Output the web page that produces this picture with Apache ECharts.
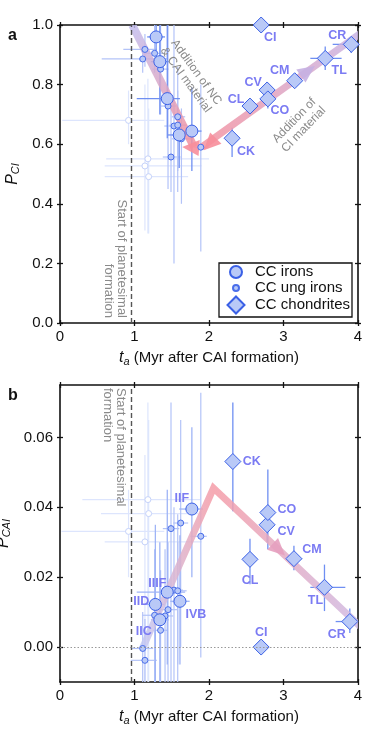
<!DOCTYPE html>
<html>
<head>
<meta charset="utf-8">
<script src="https://cdn.jsdelivr.net/npm/echarts@6/dist/echarts.min.js"></script>
<style>
html, body { margin: 0; padding: 0; background: #fff; }
#main { width: 386px; height: 744px; }
</style>
</head>
<body>
<div id="main"></div>
<script>
var FONT = '"Liberation Sans", Arial, Helvetica, sans-serif';
var INK = '#111';
var LABEL = '#7b7bf3';

// ---- panel a : P_CI against accretion age ----
var ironNames = ['IID', 'IIC', 'IIIF', 'IVB', 'IIF'];
var ironsA = [[1.29, 0.960], [1.34, 0.877], [1.44, 0.753], [1.60, 0.631], [1.77, 0.644]];
var ironsAErr = [[1.17, 1.41, 0.86, 1.00], [1.22, 1.46, 0.70, 1.00], [1.03, 1.61, 0.62, 1.00], [1.45, 1.68, 0.52, 0.70], [1.70, 1.90, 0.51, 0.79]];
var ungA = [[1.14, 0.918], [1.27, 0.905], [1.11, 0.886], [1.35, 0.852], [1.45, 0.728], [1.58, 0.692], [1.53, 0.661], [1.58, 0.664], [1.63, 0.618], [1.89, 0.590], [1.49, 0.557]];
var ungAErr = [[0.85, 1.30, 0.86, 0.97], [1.15, 1.40, 0.84, 1.00], [0.56, 1.45, 0.84, 0.93], [1.24, 1.46, 0.70, 1.00], [1.35, 1.56, 0.45, 1.00], [1.50, 1.68, 0.51, 0.78],
               [1.40, 1.62, 0.20, 1.00], [1.47, 1.70, 0.44, 0.86], [1.50, 1.76, 0.40, 0.72], [1.80, 2.00, 0.24, 0.80], [1.38, 1.62, 0.44, 0.72]];
var ungAFaint = [[0.92, 0.680], [1.18, 0.551], [1.14, 0.527], [1.19, 0.491]];
var ungAFaintErr = [[0.03, 1.40, 0.60, 0.78], [0.62, 2.00, 0.30, 0.82], [0.60, 1.90, 0.31, 0.80], [0.60, 1.72, 0.30, 0.72]];
var chondNames = ['CI', 'CR', 'TL', 'CM', 'CV', 'CO', 'CL', 'CK'];
var chondA = [[2.70, 1.000], [3.91, 0.935], [3.56, 0.888], [3.15, 0.813], [2.78, 0.782], [2.79, 0.752], [2.55, 0.728], [2.31, 0.620]];
var chondAErr = [[2.70, 2.70, 1.00, 1.00], [3.66, 4.03, 0.906, 0.956], [3.36, 3.78, 0.849, 0.928], [3.15, 3.15, 0.80, 0.83], [2.78, 2.78, 0.782, 0.782], [2.79, 2.79, 0.72, 0.78], [2.55, 2.55, 0.728, 0.728], [2.31, 2.31, 0.557, 0.655]];
var arrowA1 = [[0.97, 1.00], [1.80, 0.59]];
var arrowA2 = [[1.90, 0.59], [4.05, 0.975]];
var headsA = [[1.64, 0.591, 1.87, 0.587], [1.93, 0.580, 2.05, 0.610], [3.42, 0.862, 3.25, 0.832]];

// ---- panel b : P_CAI against accretion age ----
var ironsB = [[1.28, 0.0122], [1.34, 0.0078], [1.44, 0.0157], [1.61, 0.0131], [1.77, 0.0395]];
var ironsBErr = [[1.15, 1.40, -0.01, 0.035], [1.22, 1.46, -0.01, 0.030], [1.03, 1.68, -0.005, 0.045], [1.48, 1.74, -0.005, 0.032], [1.60, 1.92, 0.020, 0.0629]];
var ungB = [[1.53, 0.0163], [1.58, 0.0161], [1.58, 0.0130], [1.45, 0.0107], [1.27, 0.0091], [1.41, 0.0089], [1.35, 0.0048], [1.11, -0.0004], [1.14, -0.0038], [1.49, 0.0339], [1.62, 0.0355], [1.89, 0.0317]];
var ungBErr = [[1.42, 1.65, -0.01, 0.040], [1.48, 1.70, -0.01, 0.038], [1.50, 1.68, -0.005, 0.030], [1.35, 1.58, -0.01, 0.030], [1.10, 1.42, -0.01, 0.028], [1.30, 1.52, -0.01, 0.028],
               [1.25, 1.45, -0.01, 0.022], [0.95, 1.25, -0.01, 0.010], [0.95, 1.30, -0.01, 0.008], [1.38, 1.60, -0.01, 0.070], [1.52, 1.72, 0.000, 0.065], [1.75, 1.97, -0.003, 0.0728]];
var ungBFaint = [[1.18, 0.0422], [1.19, 0.0382], [0.92, 0.0331], [1.14, 0.0301]];
var ungBFaintErr = [[0.30, 1.88, -0.01, 0.070], [0.55, 1.85, -0.01, 0.065], [0.02, 1.40, 0.020, 0.045], [0.60, 1.90, -0.01, 0.055]];
var chondB = [[2.70, 0.0000], [3.89, 0.0073], [3.55, 0.0171], [3.14, 0.0253], [2.78, 0.0350], [2.79, 0.0385], [2.55, 0.0251], [2.32, 0.0531]];
var chondBErr = [[2.70, 2.70, 0, 0], [3.70, 4.05, 0.004, 0.011], [3.36, 3.83, 0.0103, 0.0236], [3.05, 3.25, 0.022, 0.029], [2.78, 2.78, 0.030, 0.040], [2.79, 2.79, 0.028, 0.0508], [2.55, 2.55, 0.018, 0.031], [2.32, 2.32, 0.0389, 0.070]];
var arrowB = [[1.10, -0.0007], [2.06, 0.0455], [4.05, 0.0055]];
var headsB = [[3.02, 0.0262, 2.86, 0.0294]];

var planetesimalStart = 0.95;
var ticksX = [0, 1, 2, 3, 4];
var ticksA = [0, 0.2, 0.4, 0.6, 0.8, 1.0];
var ticksB = [0, 0.02, 0.04, 0.06];

// label offsets (px from marker centre)
var offA = {CI: [9, 13], CR: [-14, -9], TL: [14, 12], CM: [-15, -10], CV: [-14, -7], CO: [12, 12], CL: [-14, -7], CK: [14, 13]};
var offB = {CI: [0, -15], CR: [-13, 13], TL: [-9, 13], CM: [18, -9], CV: [19, 7], CO: [19, -3], CL: [0, 21], CK: [19, 0],
            IIF: [-10, -10], IIIF: [-10, -9], IID: [-14, -3], IVB: [16, 13], IIC: [-16, 12]};

function lineSt(show) { return {show: show, onZero: false, lineStyle: {color: INK, width: 1.6}}; }
function tickSt(inside, vals) { return {show: true, inside: inside, length: 3, customValues: vals, lineStyle: {color: INK, width: 1.3}}; }
var nameRich = {
    i: {fontStyle: 'italic', fontSize: 16, fontFamily: FONT, color: INK, lineHeight: 18},
    s: {fontStyle: 'italic', fontSize: 11, fontFamily: FONT, color: INK, lineHeight: 12, verticalAlign: 'bottom'},
    n: {fontSize: 15, fontFamily: FONT, color: INK, lineHeight: 18}
};

function xAxes(gi) {
    var base = {gridIndex: gi, type: 'value', min: 0, max: 4, splitLine: {show: false}};
    return [
        Object.assign({}, base, {position: 'bottom', axisLine: lineSt(true), axisTick: tickSt(false, ticksX),
            axisLabel: {show: true, customValues: ticksX, margin: 6, fontSize: 15, color: INK, fontFamily: FONT},
            name: '{i|t}{s|a}{n| (Myr after CAI formation)}', nameLocation: 'middle', nameGap: 26,
            nameTextStyle: {rich: nameRich}}),
        Object.assign({}, base, {position: 'bottom', axisLine: lineSt(false), axisTick: tickSt(true, ticksX), axisLabel: {show: false}}),
        Object.assign({}, base, {position: 'top', axisLine: lineSt(true), axisTick: tickSt(true, ticksX), axisLabel: {show: false}}),
        Object.assign({}, base, {position: 'top', axisLine: lineSt(false), axisTick: tickSt(false, ticksX), axisLabel: {show: false}})
    ];
}
function yAxes(gi, min, max, ticks, digits, nameText) {
    var base = {gridIndex: gi, type: 'value', min: min, max: max, splitLine: {show: false}};
    return [
        Object.assign({}, base, {position: 'left', axisLine: lineSt(true), axisTick: tickSt(false, ticks),
            axisLabel: {show: true, customValues: ticks, margin: 7, fontSize: 15, color: INK, fontFamily: FONT,
                formatter: function (v) { return v.toFixed(digits); }},
            name: nameText, nameLocation: 'middle', nameGap: 38, nameRotate: 90, nameTextStyle: {rich: nameRich}}),
        Object.assign({}, base, {position: 'left', axisLine: lineSt(false), axisTick: tickSt(true, ticks), axisLabel: {show: false}}),
        Object.assign({}, base, {position: 'right', axisLine: lineSt(true), axisTick: tickSt(true, ticks), axisLabel: {show: false}}),
        Object.assign({}, base, {position: 'right', axisLine: lineSt(false), axisTick: tickSt(false, ticks), axisLabel: {show: false}})
    ];
}

// error bars drawn through the axes
function bars(pts, errs, color, width, ai) {
    return {
        type: 'custom', xAxisIndex: ai, yAxisIndex: ai, z: 1, silent: true, clip: true,
        data: pts.map(function (p, i) { return p.concat(errs[i]); }),
        renderItem: function (params, api) {
            var x = api.value(0), y = api.value(1), kids = [];
            if (api.value(3) > api.value(2)) {
                var a = api.coord([api.value(2), y]), b = api.coord([api.value(3), y]);
                kids.push({type: 'line', shape: {x1: a[0], y1: a[1], x2: b[0], y2: b[1]}, style: {stroke: color, lineWidth: width}});
            }
            if (api.value(5) > api.value(4)) {
                var c = api.coord([x, api.value(4)]), d = api.coord([x, api.value(5)]);
                kids.push({type: 'line', shape: {x1: c[0], y1: c[1], x2: d[0], y2: d[1]}, style: {stroke: color, lineWidth: width}});
            }
            return {type: 'group', children: kids};
        }
    };
}

// thick gradient arrow shafts
function shaft(path, colors, width, ai) {
    return {
        type: 'custom', xAxisIndex: ai, yAxisIndex: ai, z: 2, silent: true, clip: true,
        data: path,
        renderItem: function (params, api) {
            if (params.dataIndex !== 0) return null;
            var pts = path.map(function (p) { return api.coord(p); });
            var s = pts[0], e = pts[pts.length - 1];
            var dx = e[0] - s[0], dy = e[1] - s[1], L2 = dx * dx + dy * dy;
            var stops = pts.map(function (p, i) {
                return {offset: Math.max(0, Math.min(1, ((p[0] - s[0]) * dx + (p[1] - s[1]) * dy) / L2)), color: colors[i]};
            });
            return {
                type: 'polyline', shape: {points: pts},
                style: {fill: null, lineWidth: width, lineJoin: 'miter', opacity: 0.85,
                    stroke: {type: 'linear', x: s[0], y: s[1], x2: e[0], y2: e[1], global: true, colorStops: stops}}
            };
        }
    };
}

function heads(list, colors, ai) {
    return {
        type: 'custom', xAxisIndex: ai, yAxisIndex: ai, z: 2, silent: true, clip: true,
        data: list,
        renderItem: function (params, api) {
            var t = api.coord([api.value(0), api.value(1)]), b = api.coord([api.value(2), api.value(3)]);
            var ux = t[0] - b[0], uy = t[1] - b[1], n = Math.sqrt(ux * ux + uy * uy);
            ux /= n; uy /= n;
            var len = 17, half = 8;
            var bx = t[0] - ux * len, by = t[1] - uy * len;
            return {
                type: 'polygon',
                shape: {points: [t, [bx - uy * half, by + ux * half], [bx + uy * half, by - ux * half]]},
                style: {fill: colors[params.dataIndex], opacity: 0.9}
            };
        }
    };
}

function dots(name, pts, names, offs, symbol, size, fill, stroke, ai, extra) {
    var s = {
        type: 'scatter', name: name, xAxisIndex: ai, yAxisIndex: ai, z: 3,
        symbol: symbol, symbolSize: size, emphasis: {disabled: true},
        itemStyle: {color: fill, borderColor: stroke, borderWidth: 1, opacity: 1},
        label: {formatter: '{b}', fontSize: 12.5, fontWeight: 'bold', color: LABEL, fontFamily: FONT},
        data: pts.map(function (p, i) {
            var d = {value: p};
            if (names && offs[names[i]]) {
                d.name = names[i];
                d.label = {show: true, position: 'inside', offset: offs[names[i]]};
            }
            return d;
        })
    };
    return Object.assign(s, extra || {});
}

var FILL = '#b9c9f7', EDGE = '#3a60e6';
var IRONERR = '#6f8ff2', UNGERR = '#b3c3f8', FAINTERR = '#dde5fd';
var dashed = {color: '#555', width: 1.4, type: [5, 3]};

var series = [
    // panel a
    bars(ungAFaint, ungAFaintErr, FAINTERR, 1.2, 0),
    bars(ungA, ungAErr, UNGERR, 1.2, 0),
    bars(ironsA, ironsAErr, IRONERR, 1.3, 0),
    bars(chondA, chondAErr, IRONERR, 1.3, 0),
    shaft(arrowA1, ['#c2bdee', '#f48f9c'], 8, 0),
    shaft(arrowA2, ['#f5919e', '#c8b6e6'], 7, 0),
    heads(headsA, ['#f78e9b', '#f78e9b', '#c5b0e2'], 0),
    dots('old ung A', ungAFaint, null, {}, 'circle', 6, '#fff', '#c5d2fa', 0, {
        markLine: {silent: true, symbol: 'none', label: {show: false}, animation: false,
            data: [{xAxis: planetesimalStart, lineStyle: dashed}]}
    }),
    dots('CC ung irons', ungA, null, {}, 'circle', 6, FILL, '#4a6eea', 0),
    dots('CC irons', ironsA, null, {}, 'circle', 12, FILL, EDGE, 0),
    dots('CC chondrites', chondA, chondNames, offA, 'diamond', 16, FILL, EDGE, 0),
    // panel b
    bars(ungBFaint, ungBFaintErr, FAINTERR, 1.2, 4),
    bars(ungB, ungBErr, UNGERR, 1.2, 4),
    bars(ironsB, ironsBErr, '#9fb4f6', 1.3, 4),
    bars(chondB, chondBErr, IRONERR, 1.3, 4),
    shaft(arrowB, ['#c3c9f4', '#f59ca7', '#cfbbe4'], 7, 4),
    heads(headsB, ['#e5a0bf'], 4),
    dots('old ung B', ungBFaint, null, {}, 'circle', 6, '#fff', '#c5d2fa', 4, {
        markLine: {silent: true, symbol: 'none', label: {show: false}, animation: false,
            data: [
                {xAxis: planetesimalStart, lineStyle: dashed},
                {yAxis: 0, lineStyle: {color: '#999', width: 1.2, type: [1.5, 2]}}
            ]}
    }),
    dots('CC ung irons', ungB, null, {}, 'circle', 6, FILL, '#4a6eea', 4),
    dots('CC irons', ironsB, ironNames, offB, 'circle', 12, FILL, EDGE, 4),
    dots('CC chondrites', chondB, chondNames, offB, 'diamond', 16, FILL, EDGE, 4)
];

// one legend per row so each symbol keeps its own size; icon centred at x = 235, text at x = 254
function legendRow(name, icon, top, w, h) {
    return {
        data: [{name: name, icon: icon}], left: 235 - w / 2, top: top, orient: 'vertical', padding: 0, z: 5,
        itemWidth: w, itemHeight: h, selectedMode: false,
        textStyle: {fontSize: 15, color: INK, fontFamily: FONT, padding: [0, 0, 0, 254 - (235 + w / 2 + 5)]}
    };
}

var note = {fill: '#8a8a8a', fontFamily: FONT};
var option = {
    animation: false,
    backgroundColor: '#fff',
    textStyle: {fontFamily: FONT},
    grid: [
        {left: 60, right: 28, top: 25, height: 298, containLabel: false, outerBoundsMode: 'none'},
        {left: 60, right: 28, top: 385, height: 297, containLabel: false, outerBoundsMode: 'none'}
    ],
    xAxis: xAxes(0).concat(xAxes(1)),
    yAxis: yAxes(0, 0, 1, ticksA, 1, '{i|P}{s|CI}').concat(yAxes(1, -0.01, 0.075, ticksB, 2, '{i|P}{s|CAI}')),
    legend: [
        legendRow('CC irons', 'circle', 264.5, 12, 12),
        legendRow('CC ung irons', 'circle', 280.5, 6, 6),
        legendRow('CC chondrites', 'diamond', 295.5, 17, 17)
    ],
    graphic: [
        {type: 'rect', z: 3, shape: {x: 219, y: 263, width: 133, height: 54}, style: {fill: '#fff', stroke: INK, lineWidth: 1.3}},
        {type: 'text', x: 8, y: 28, style: {text: 'a', fontSize: 16, fontWeight: 'bold', fill: INK, fontFamily: FONT}},
        {type: 'text', x: 8, y: 388, style: {text: 'b', fontSize: 16, fontWeight: 'bold', fill: INK, fontFamily: FONT}},
        {type: 'text', x: 128, y: 318, rotation: -Math.PI / 2, z: 4,
            style: Object.assign({text: 'Start of planetesimal\nformation', fontSize: 13, lineHeight: 13, align: 'right', verticalAlign: 'top'}, note)},
        {type: 'text', x: 127, y: 388, rotation: -Math.PI / 2, z: 4,
            style: Object.assign({text: 'Start of planetesimal\nformation', fontSize: 13, lineHeight: 13, align: 'left', verticalAlign: 'top'}, note)},
        {type: 'text', x: 191, y: 76, rotation: -54 * Math.PI / 180, z: 4,
            style: Object.assign({text: 'Addition of NC\n& CAI material', fontSize: 12, lineHeight: 13, align: 'center', verticalAlign: 'middle'}, note)},
        {type: 'text', x: 299, y: 125, rotation: 46 * Math.PI / 180, z: 4,
            style: Object.assign({text: 'Addition of\nCI material', fontSize: 12, lineHeight: 13, align: 'center', verticalAlign: 'middle'}, note)}
    ],
    series: series
};

var chart = echarts.init(document.getElementById('main'), null, {renderer: 'canvas'});
chart.setOption(option);
</script>
</body>
</html>
